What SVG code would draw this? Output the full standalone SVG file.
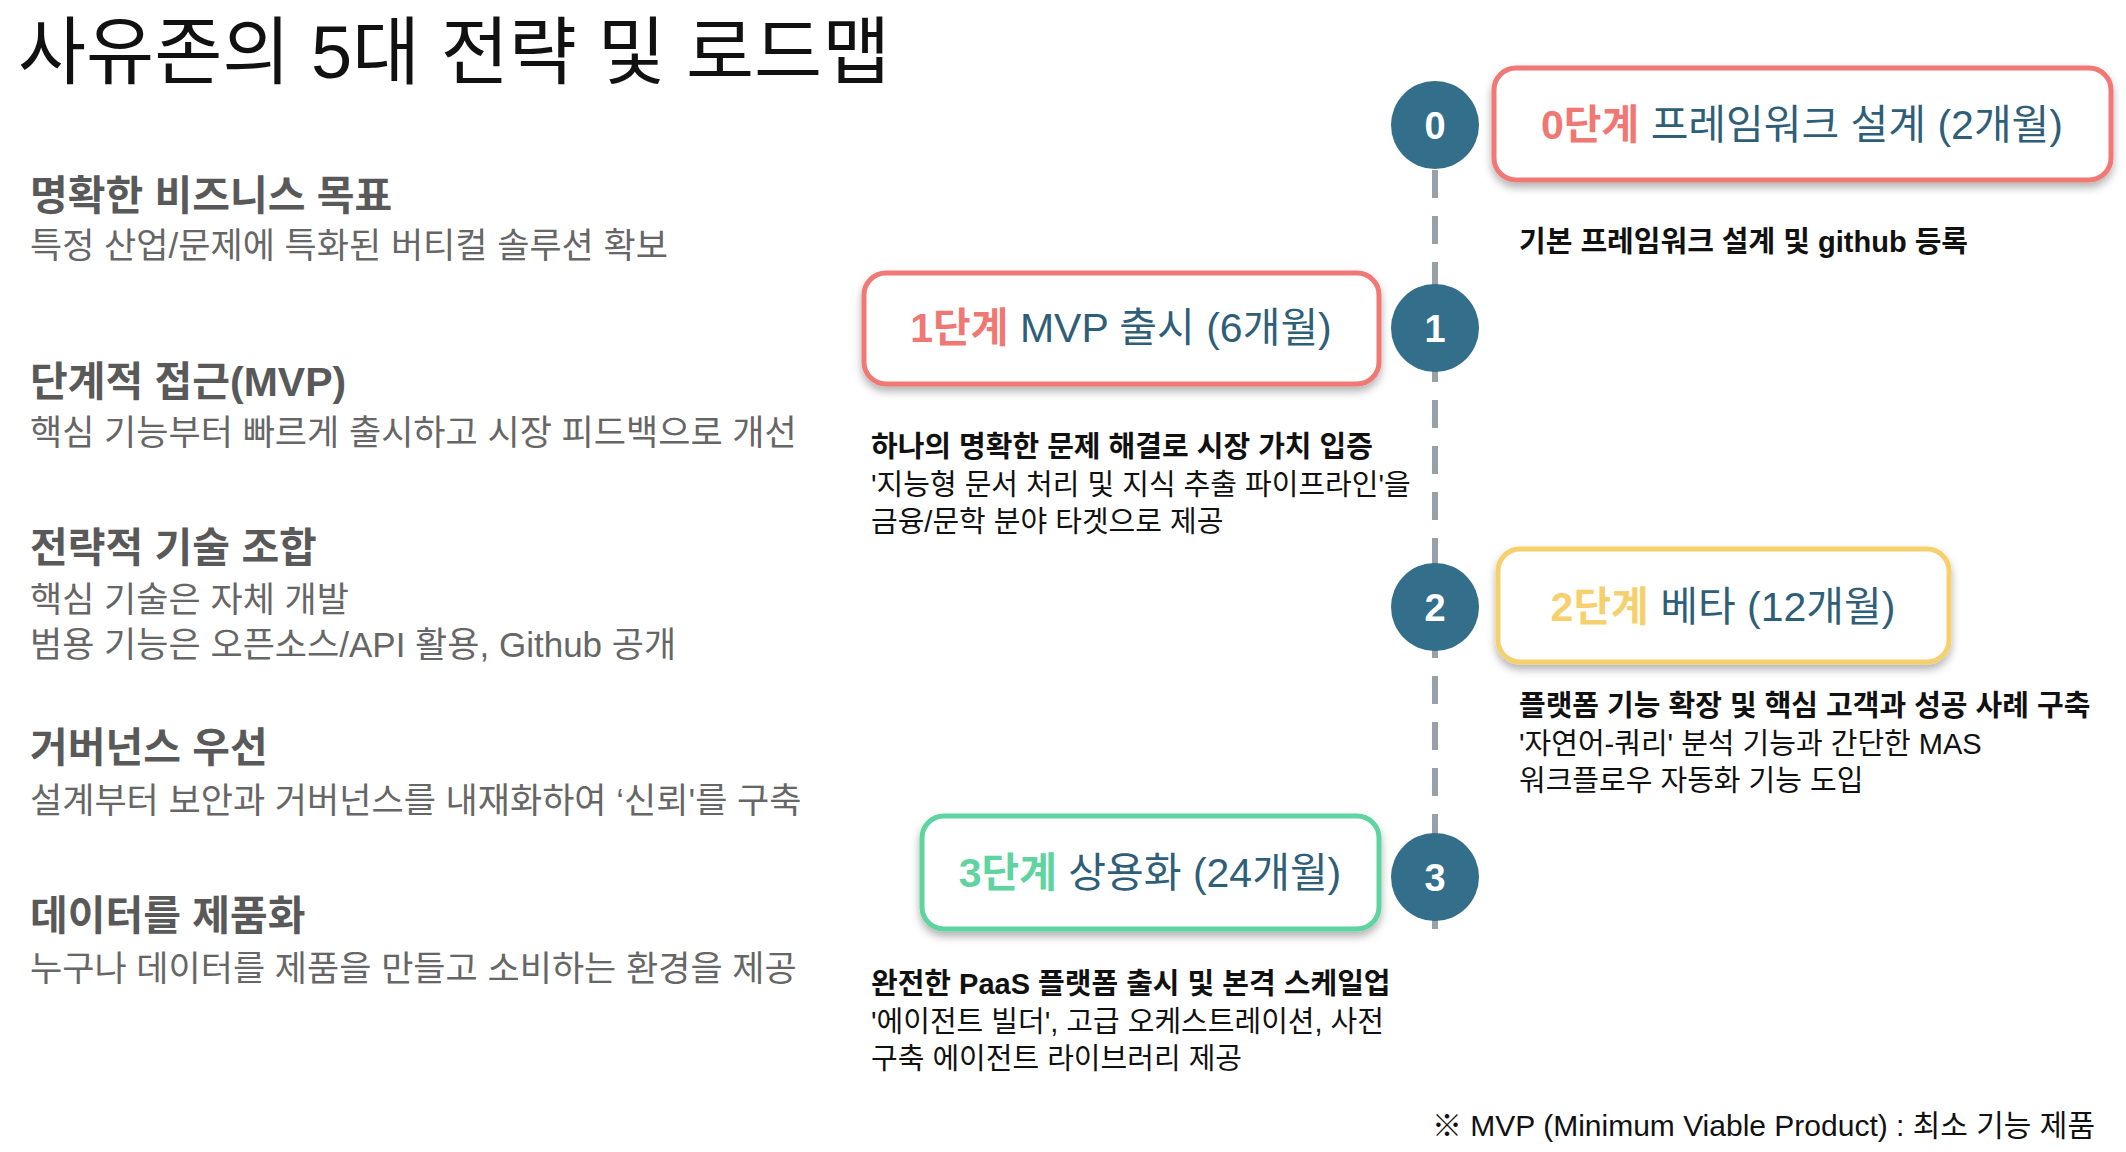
<svg xmlns="http://www.w3.org/2000/svg" width="2126" height="1152" viewBox="0 0 2126 1152">
<defs>
<filter id="sh" x="-10%" y="-20%" width="120%" height="150%"><feDropShadow dx="0" dy="5" stdDeviation="4" flood-color="#000" flood-opacity="0.3"/></filter>
<style>
text{font-family:"Liberation Sans","Noto Sans CJK KR",sans-serif}
.h{font-size:41px;font-weight:bold;fill:#595959}
.s{font-size:35px;fill:#666}
.box{fill:#fff;stroke-width:5}
.c{fill:#336e8a}
.n{fill:#fff;font-size:38px;font-weight:bold;text-anchor:middle}
.bt{font-size:41px;fill:#2f5f78;text-anchor:middle}
.d{font-size:29px;fill:#111}
.b{font-weight:bold}
</style>
</defs>
<rect width="2126" height="1152" fill="#fff"/>
<text x="18" y="78" font-size="74" fill="#111">사유존의 5대 전략 및 로드맵</text>
<g id="goals">
<text class="h" x="30" y="210">명확한 비즈니스 목표</text>
<text class="s" x="30" y="258">특정 산업/문제에 특화된 버티컬 솔루션 확보</text>
<text class="h" x="30" y="396">단계적 접근(MVP)</text>
<text class="s" x="30" y="445">핵심 기능부터 빠르게 출시하고 시장 피드백으로 개선</text>
<text class="h" x="30" y="562">전략적 기술 조합</text>
<text class="s" x="30" y="612">핵심 기술은 자체 개발</text>
<text class="s" x="30" y="657">범용 기능은 오픈소스/API 활용, Github 공개</text>
<text class="h" x="30" y="762">거버넌스 우선</text>
<text class="s" x="30" y="813">설계부터 보안과 거버넌스를 내재화하여 ‘신뢰'를 구축</text>
<text class="h" x="30" y="930">데이터를 제품화</text>
<text class="s" x="30" y="981">누구나 데이터를 제품을 만들고 소비하는 환경을 제공</text>
</g>
<g id="connectors">
<line x1="1435" y1="170" x2="1435" y2="929" stroke="#9aa0a8" stroke-width="6" stroke-dasharray="28,18"/>
</g>
<g id="step0">
<circle class="c" cx="1435" cy="125" r="44"/><text class="n" x="1435" y="139">0</text>
<rect class="box" x="1494" y="68" width="617" height="112" rx="22" stroke="#f07874" filter="url(#sh)"/>
<text class="bt" x="1802" y="139"><tspan fill="#f07874" font-weight="bold">0단계</tspan> 프레임워크 설계 (2개월)</text>
<text class="d b" x="1519" y="252">기본 프레임워크 설계 및 github 등록</text>
</g>
<g id="step1">
<circle class="c" cx="1435" cy="328" r="44"/><text class="n" x="1435" y="342">1</text>
<rect class="box" x="864" y="273" width="515" height="111" rx="22" stroke="#f07874" filter="url(#sh)"/>
<text class="bt" x="1121" y="342"><tspan fill="#f07874" font-weight="bold">1단계</tspan> MVP 출시 (6개월)</text>
<text class="d b" x="871" y="457">하나의 명확한 문제 해결로 시장 가치 입증</text>
<text class="d" x="871" y="495">'지능형 문서 처리 및 지식 추출 파이프라인'을</text>
<text class="d" x="871" y="532">금융/문학 분야 타겟으로 제공</text>
</g>
<g id="step2">
<circle class="c" cx="1435" cy="607" r="44"/><text class="n" x="1435" y="621">2</text>
<rect class="box" x="1498" y="549" width="451" height="113" rx="22" stroke="#f7d06e" filter="url(#sh)"/>
<text class="bt" x="1723" y="621"><tspan fill="#f7d06e" font-weight="bold">2단계</tspan> 베타 (12개월)</text>
<text class="d b" x="1519" y="716">플랫폼 기능 확장 및 핵심 고객과 성공 사례 구축</text>
<text class="d" x="1519" y="754">'자연어-쿼리' 분석 기능과 간단한 MAS</text>
<text class="d" x="1519" y="791">워크플로우 자동화 기능 도입</text>
</g>
<g id="step3">
<circle class="c" cx="1435" cy="877" r="44"/><text class="n" x="1435" y="891">3</text>
<rect class="box" x="922" y="816" width="457" height="113" rx="22" stroke="#5fd3a0" filter="url(#sh)"/>
<text class="bt" x="1150" y="887"><tspan fill="#5fd3a0" font-weight="bold">3단계</tspan> 상용화 (24개월)</text>
<text class="d b" x="871" y="994">완전한 PaaS 플랫폼 출시 및 본격 스케일업</text>
<text class="d" x="871" y="1032">'에이전트 빌더', 고급 오케스트레이션, 사전</text>
<text class="d" x="871" y="1069">구축 에이전트 라이브러리 제공</text>
</g>
<text x="2095" y="1136" text-anchor="end" font-size="30" fill="#111">※ MVP (Minimum Viable Product) : 최소 기능 제품</text>
</svg>
